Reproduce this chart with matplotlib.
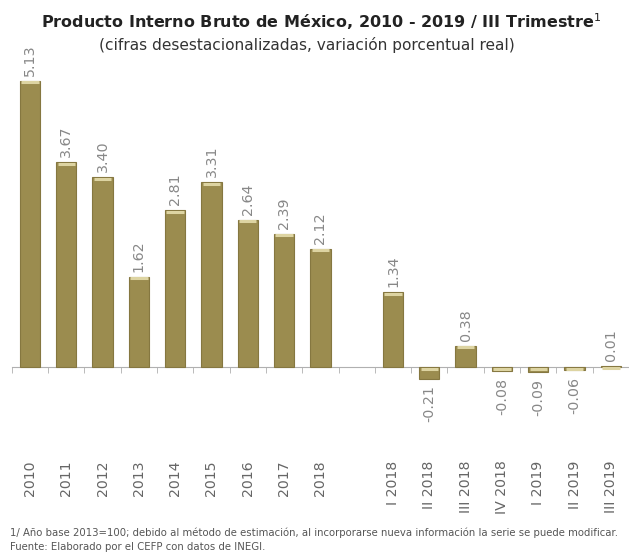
import matplotlib
matplotlib.use("Agg")
import matplotlib.pyplot as plt
import numpy as np

# %%
# Data
annual_labels = ["2010", "2011", "2012", "2013", "2014", "2015", "2016", "2017", "2018"]
annual_values = [5.13, 3.67, 3.40, 1.62, 2.81, 3.31, 2.64, 2.39, 2.12]
quarter_labels = ["I 2018", "II 2018", "III 2018", "IV 2018", "I 2019", "II 2019", "III 2019"]
quarter_values = [1.34, -0.21, 0.38, -0.08, -0.09, -0.06, 0.01]

labels = annual_labels + [""] + quarter_labels
values = annual_values + [np.nan] + quarter_values
x = np.arange(len(labels))

bar_color = "#9b8c4f"
text_gray = "#888888"

fig = plt.figure(figsize=(6.29, 5.52), dpi=100)
W, H = 629, 552
# axes placed in pixel terms: baseline at y=367px, 55.8 px per unit
ax = fig.add_axes([0, (H - 400) / H, 1, 360 / H])
px_unit = 55.8
ax.set_ylim(-(400 - 367) / px_unit, (367 - 40) / px_unit)
ax.set_xlim(-30.4 / 36.9, (W - 30.4) / 36.9)

w = 0.56
mask = ~np.isnan(values)
vals = np.array(values)
ax.bar(x[mask], vals[mask], width=w, color=bar_color, edgecolor="#857740",
       linewidth=0.8, zorder=3)
# light top face of each bar
tops = np.where(vals[mask] > 0, vals[mask], 0)
ax.hlines(tops - 0.03, x[mask] - w / 2 + 0.04, x[mask] + w / 2 - 0.04,
          color="#ddd4a2", linewidth=2.2, zorder=4)

for xi, v in zip(x[mask], vals[mask]):
    if v >= 0:
        ax.text(xi, v + 0.09, f"{v:.2f}", rotation=90, ha="center", va="bottom",
                fontsize=10.3, color=text_gray)
    else:
        ax.text(xi, v - 0.12, f"{v:.2f}", rotation=90, ha="center", va="top",
                fontsize=10.3, color=text_gray)

for s in ["top", "right", "left"]:
    ax.spines[s].set_visible(False)
ax.spines["bottom"].set_position(("data", 0))
ax.spines["bottom"].set_bounds(-0.5, 16.5)
ax.spines["bottom"].set_color("#b0b0b0")
ax.set_yticks([])

ax.set_xticks(x)
ax.set_xticklabels(labels, rotation=90, fontsize=10.2, color="#666666")
ax.tick_params(axis="x", which="major", length=0, pad=67.5)
ax.set_xticks(np.arange(-0.5, 16.6, 1), minor=True)
ax.tick_params(axis="x", which="minor", length=4, color="#b0b0b0", direction="out")

fig.text(321 / W, 1 - 22 / H, "Producto Interno Bruto de México, 2010 - 2019 / III Trimestre$^1$",
         ha="center", va="center", fontsize=11.5, fontweight="bold", color="#222222")
fig.text(307 / W, 1 - 45 / H, "(cifras desestacionalizadas, variación porcentual real)",
         ha="center", va="center", fontsize=11.1, color="#333333")

fig.text(10 / W, 1 - 533 / H,
         "1/ Año base 2013=100; debido al método de estimación, al incorporarse nueva información la serie se puede modificar.",
         ha="left", va="center", fontsize=7.3, color="#555555")
fig.text(10 / W, 1 - 547 / H, "Fuente: Elaborado por el CEFP con datos de INEGI.",
         ha="left", va="center", fontsize=7.3, color="#555555")

fig.savefig("out.png", dpi=100)
